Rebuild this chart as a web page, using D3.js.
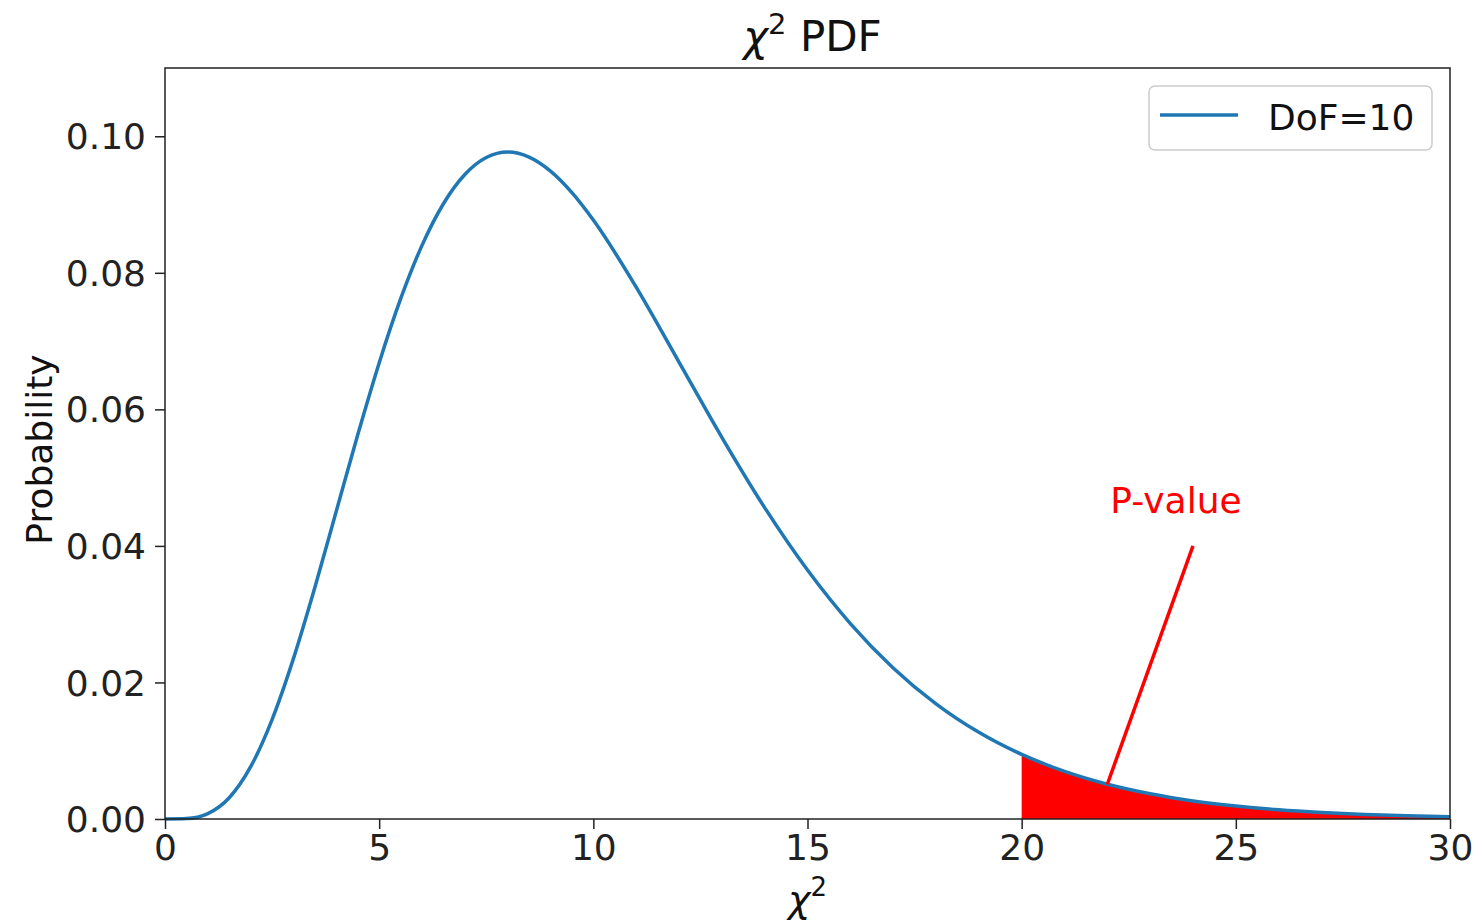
<!DOCTYPE html>
<html><head><meta charset="utf-8">
<script src="https://cdn.jsdelivr.net/npm/d3@7"></script>
<style>
body{margin:0;background:#fff;}
svg{display:block;font-family:"DejaVu Sans",sans-serif;}
</style></head>
<body>
<script>
// Values (chi-square PDF, DoF = 10)
const xValues = [0,0.5,1,1.5,2,2.5,3,3.5,4,4.5,5,5.5,6,6.5,7,7.5,8,8.5,9,9.5,10,11,12,13,14,15,16,17,18,19,20,21,22,23,24,25,26,27,28,29,30];
const pdfValues = [0,0.00006,0.00079,0.00311,0.00766,0.01457,0.02353,0.03395,0.04511,0.05628,0.0668,0.07617,0.08402,0.09012,0.0944,0.09689,0.09768,0.09695,0.0949,0.09175,0.08773,0.07791,0.06693,0.05591,0.04561,0.03646,0.02863,0.02213,0.01687,0.0127,0.00946,0.00697,0.00509,0.00369,0.00265,0.0019,0.00134,0.00095,0.00067,0.00046,0.00032];
const xTicks = [0,5,10,15,20,25,30];
const yTicks = [0,0.02,0.04,0.06,0.08,0.10];
const seriesName = "DoF=10";
const pThreshold = 20;
const annotPoint = [22, 0.00509];
const annotText = [24, 0.04];
const annotLabel = "P-value";

const W=1482,H=921;
const m={l:165,r:32,t:68,b:102};
const svg=d3.select("body").append("svg").attr("width",W).attr("height",H);
const x=d3.scaleLinear().domain([0,30]).range([m.l,W-m.r]);
const y=d3.scaleLinear().domain([0,0.11]).range([H-m.b,m.t]);
const data=xValues.map((v,i)=>({x:v,y:pdfValues[i]}));

// fill
const tail=data.filter(d=>d.x>=pThreshold);
svg.append("path").datum(tail)
 .attr("d",d3.area().x(d=>x(d.x)).y0(y(0)).y1(d=>y(d.y)).curve(d3.curveMonotoneX))
 .attr("fill","#ff0000");
// line
svg.append("path").datum(data)
 .attr("d",d3.line().x(d=>x(d.x)).y(d=>y(d.y)).curve(d3.curveMonotoneX))
 .attr("fill","none").attr("stroke","#1f77b4").attr("stroke-width",3.5);

// annotation
svg.append("line").attr("x1",x(annotText[0])).attr("y1",y(annotText[1]))
 .attr("x2",x(annotPoint[0])).attr("y2",y(annotPoint[1]))
 .attr("stroke","#ff0000").attr("stroke-width",3.5);
svg.append("text").attr("x",x(annotText[0])-17).attr("y",y(annotText[1])-33)
 .attr("text-anchor","middle").attr("fill","#ff0000").attr("font-size",36).text(annotLabel);

// frame
svg.append("rect").attr("x",m.l).attr("y",m.t).attr("width",W-m.r-m.l).attr("height",H-m.b-m.t)
 .attr("fill","none").attr("stroke","#222").attr("stroke-width",1.5);

// axes
const xa=svg.append("g").attr("transform",`translate(0,${H-m.b})`)
 .call(d3.axisBottom(x).tickValues(xTicks).tickFormat(d3.format("d")).tickSize(10).tickSizeOuter(0));
const ya=svg.append("g").attr("transform",`translate(${m.l},0)`)
 .call(d3.axisLeft(y).tickValues(yTicks).tickFormat(d3.format(".2f")).tickSize(10).tickSizeOuter(0));
[xa,ya].forEach(a=>{a.select(".domain").remove();
 a.selectAll(".tick line").attr("stroke","#222").attr("stroke-width",1.5);
 a.selectAll(".tick text").attr("font-family","DejaVu Sans").attr("font-size",36).attr("fill","#222");});
xa.selectAll(".tick text").attr("dy","0.9em").attr("y",9);
ya.selectAll(".tick text").attr("x",-19).attr("dy","0.35em");

// title
const t=svg.append("text").attr("x",(m.l+W-m.r)/2+5).attr("y",51).attr("text-anchor","middle").attr("font-size",42).attr("fill","#111");
t.append("tspan").attr("font-style","italic").text("χ");
t.append("tspan").attr("font-size",29).attr("dy",-17).text("2");
t.append("tspan").attr("dy",17).text(" PDF");

// x label
const xl=svg.append("text").attr("x",(m.l+W-m.r)/2).attr("y",912).attr("text-anchor","middle").attr("font-size",38).attr("fill","#111");
xl.append("tspan").attr("font-style","italic").text("χ");
xl.append("tspan").attr("font-size",26).attr("dy",-16).text("2");

// y label
svg.append("text").attr("transform",`translate(52,${(m.t+H-m.b)/2+6}) rotate(-90)`)
 .attr("text-anchor","middle").attr("font-size",36).attr("fill","#111").text("Probability");

// legend
const lg=svg.append("g");
lg.append("rect").attr("x",1149).attr("y",86).attr("width",283).attr("height",64).attr("rx",6)
 .attr("fill","#fff").attr("stroke","#ccc").attr("stroke-width",1.5);
lg.append("line").attr("x1",1160).attr("x2",1238).attr("y1",115).attr("y2",115).attr("stroke","#1f77b4").attr("stroke-width",3.5);
lg.append("text").attr("x",1268).attr("y",130).attr("font-size",36).attr("fill","#111").text(seriesName);
</script>
</body></html>
